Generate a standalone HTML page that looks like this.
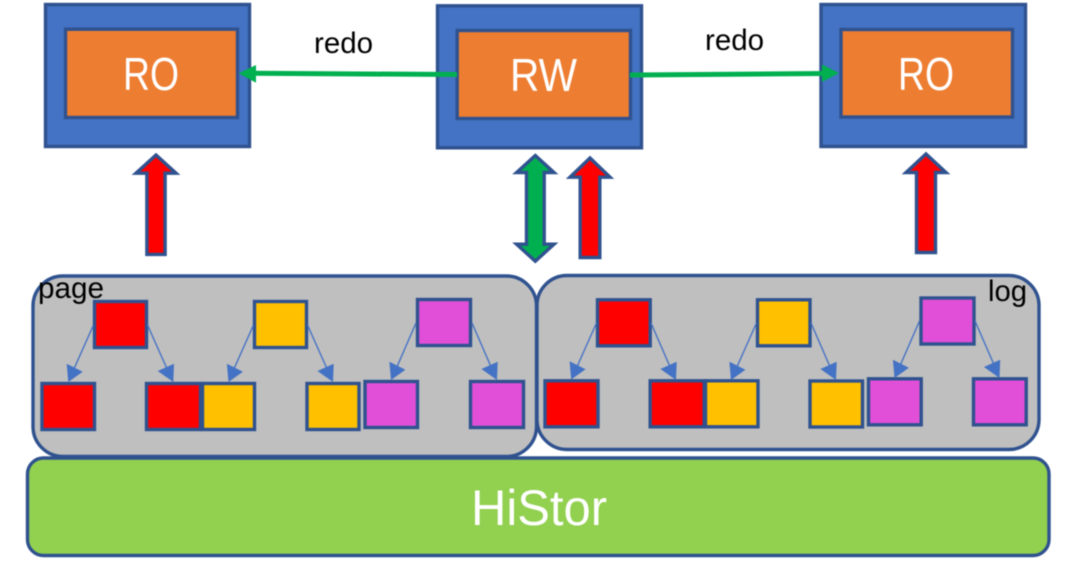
<!DOCTYPE html>
<html>
<head>
<meta charset="utf-8">
<style>
html,body{margin:0;padding:0;background:#fff;width:1080px;height:575px;overflow:hidden}
svg{display:block;filter:blur(0.4px)}
text{font-family:"Liberation Sans",Arial,sans-serif}
.o{fill:#4472C4;stroke:#2F528F;stroke-width:3.4}
.i{fill:#ED7D31;stroke:#2F528F;stroke-width:3.4}
.p{fill:#BFBFBF;stroke:#2F528F;stroke-width:3.4}
.a{stroke:#2F528F;stroke-width:3.4;stroke-linejoin:miter}
.r{fill:#FF0000;stroke:#2F528F;stroke-width:3.4}
.y{fill:#FFC000;stroke:#2F528F;stroke-width:3.4}
.m{fill:#E14FD9;stroke:#2F528F;stroke-width:3.4}
.l{stroke:#4472C4;stroke-width:1.4;fill:none}
.h{fill:#4472C4}
.w{fill:#fff}
.k{fill:#000}
</style>
</head>
<body>
<svg width="1080" height="575" viewBox="0 0 1080 575" xmlns="http://www.w3.org/2000/svg">
<rect width="1080" height="575" fill="#fff"/>

<!-- top boxes -->
<rect class="o" x="45.5" y="4.5" width="204" height="142"/>
<rect class="i" x="65.5" y="29.2" width="172" height="88.3"/>
<rect class="o" x="437.5" y="5.8" width="204" height="142"/>
<rect class="i" x="457.2" y="30.5" width="173.3" height="88"/>
<rect class="o" x="821" y="4.5" width="204.5" height="142"/>
<rect class="i" x="841" y="29.5" width="171.5" height="87.5"/>
<text class="w" x="123" y="90" font-size="46" textLength="56" lengthAdjust="spacingAndGlyphs">RO</text>
<text class="w" x="510" y="91" font-size="46" textLength="67" lengthAdjust="spacingAndGlyphs">RW</text>
<text class="w" x="898" y="90" font-size="46" textLength="56" lengthAdjust="spacingAndGlyphs">RO</text>

<!-- redo connectors -->
<line x1="457" y1="74.5" x2="252" y2="73.3" stroke="#00B050" stroke-width="5"/>
<polygon points="238.7,73.3 256,65 256,82.7" fill="#00B050"/>
<line x1="630" y1="75" x2="825" y2="73.5" stroke="#00B050" stroke-width="5"/>
<polygon points="839,73 822,64.5 822,82" fill="#00B050"/>
<text class="k" x="314" y="53" font-size="29.5">redo</text>
<text class="k" x="705" y="50" font-size="29.5">redo</text>

<!-- block arrows -->
<polygon class="a" fill="#FF0000" points="156,155 176,173.2 165.1,173.2 165.1,254.4 146.9,254.4 146.9,173.2 136,173.2"/>
<polygon class="a" fill="#00B050" points="535.3,155.5 554,172.5 544.2,172.5 544.2,244.2 554,244.2 535.3,261.2 516.6,244.2 526.5,244.2 526.5,172.5 516.6,172.5"/>
<polygon class="a" fill="#FF0000" points="590,158 610,177.2 599.8,177.2 599.8,257.5 580.2,257.5 580.2,177.2 570,177.2"/>
<polygon class="a" fill="#FF0000" points="926,154 946,172.5 935.5,172.5 935.5,252.5 916.5,252.5 916.5,172.5 906,172.5"/>

<!-- HiStor -->
<rect x="27.5" y="458" width="1021.5" height="97.5" rx="16" ry="16" fill="#92D050" stroke="#2F528F" stroke-width="3.4"/>
<text class="w" x="471" y="525" font-size="50" textLength="136" lengthAdjust="spacingAndGlyphs">HiStor</text>

<!-- panels -->
<rect class="p" x="33" y="276" width="503.5" height="180.5" rx="30" ry="30"/>
<rect class="p" x="537" y="275.5" width="502" height="174" rx="30" ry="30"/>

<!-- left panel squares -->
<rect class="r" x="94.5" y="301.5" width="52" height="46"/>
<rect class="y" x="254.5" y="301.5" width="52" height="46"/>
<rect class="m" x="417.5" y="299.5" width="53" height="46"/>
<rect class="r" x="42" y="383.5" width="52.5" height="46"/>
<rect class="r" x="146.5" y="383.5" width="54" height="46"/>
<rect class="y" x="202.5" y="383.5" width="52" height="46"/>
<rect class="y" x="307" y="383.5" width="52" height="46"/>
<rect class="m" x="365" y="381.5" width="52.5" height="46"/>
<rect class="m" x="470.5" y="381.5" width="53" height="46"/>

<!-- right panel squares -->
<rect class="r" x="597.5" y="299.8" width="52.7" height="46"/>
<rect class="y" x="757.5" y="299.8" width="52.5" height="46"/>
<rect class="m" x="921" y="298" width="53" height="46"/>
<rect class="r" x="545" y="380.8" width="53" height="46"/>
<rect class="r" x="650.2" y="380.8" width="54" height="46"/>
<rect class="y" x="705.5" y="380.8" width="52.5" height="46"/>
<rect class="y" x="810" y="381" width="52.5" height="46"/>
<rect class="m" x="868.5" y="378.8" width="52.7" height="46"/>
<rect class="m" x="973.5" y="378.8" width="52.7" height="46"/>

<!-- tree connectors: left panel -->
<line class="l" x1="93.5" y1="325" x2="73" y2="371"/><polygon class="h" points="68.3,382 66.7,363.7 82.7,371.7"/>
<line class="l" x1="147.5" y1="325" x2="168" y2="371"/><polygon class="h" points="173.3,382 157.7,371 174,363.7"/>
<line class="l" x1="253.5" y1="325" x2="233" y2="371"/><polygon class="h" points="228.5,382 226.9,363.7 242.9,371.7"/>
<line class="l" x1="307.5" y1="325" x2="328" y2="371"/><polygon class="h" points="333,382 317.4,371 333.7,363.7"/>
<line class="l" x1="416" y1="323" x2="396" y2="369"/><polygon class="h" points="391,380 389.4,361.7 405.4,369.7"/>
<line class="l" x1="472" y1="323" x2="492" y2="369"/><polygon class="h" points="497,380 481.4,369 497.7,361.7"/>

<!-- tree connectors: right panel -->
<line class="l" x1="596.5" y1="323" x2="576" y2="369"/><polygon class="h" points="571.2,379.5 569.6,361.2 585.6,369.2"/>
<line class="l" x1="651" y1="323" x2="671" y2="369"/><polygon class="h" points="676,380 660.4,369 676.7,361.7"/>
<line class="l" x1="756.5" y1="323" x2="736" y2="369"/><polygon class="h" points="731,380 729.4,361.7 745.4,369.7"/>
<line class="l" x1="811" y1="323" x2="831" y2="369"/><polygon class="h" points="836,380 820.4,369 836.7,361.7"/>
<line class="l" x1="919.5" y1="321" x2="899.5" y2="367"/><polygon class="h" points="894.5,378 892.9,359.7 908.9,367.7"/>
<line class="l" x1="975" y1="321" x2="995" y2="367"/><polygon class="h" points="999.5,378 983.9,367 1000.2,359.7"/>

<!-- panel labels -->
<text class="k" x="38" y="298" font-size="29.7">page</text>
<text class="k" x="988" y="301" font-size="29.3">log</text>
</svg>
</body>
</html>
